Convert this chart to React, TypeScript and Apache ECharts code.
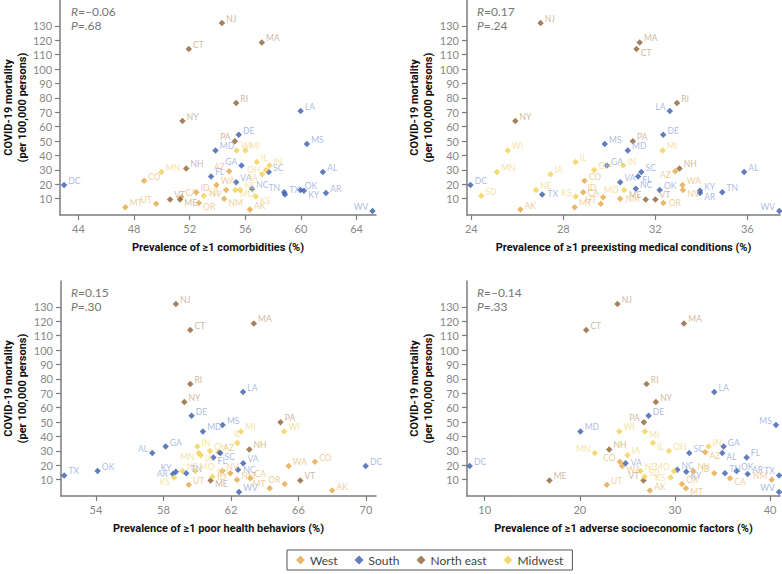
import React, { useEffect, useRef } from 'react';
import * as echarts from 'echarts';

const states = ['AK','AL','AR','AZ','CA','CO','CT','DC','DE','FL','GA','IA','ID','IL','IN','KS','KY','LA','MA','MD','ME','MI','MN','MO','MS','MT','NC','NE','NH','NJ','NM','NV','NY','OH','OK','OR','PA','RI','SC','SD','TN','TX','UT','VA','VT','WA','WI','WV'];
const regionOf = ['West','South','South','West','West','West','North east','South','South','South','South','Midwest','West','Midwest','Midwest','Midwest','South','South','North east','South','North east','Midwest','Midwest','Midwest','South','West','South','Midwest','North east','North east','West','West','North east','Midwest','South','West','North east','North east','South','Midwest','South','South','West','South','North east','West','Midwest','South'];
const mortality = [2.5,28.5,14,29,11,22.5,114,19.5,54.5,25.5,33,27,14.5,35.5,33,11.5,15.5,71,118.5,43.5,9.5,43.5,28.5,16,48,4,17,16,31,132,10,16,64,30,16,7,50,76.5,28.5,12,14.5,13,6.5,21.5,9.5,19.5,43.5,1.5];
const xComorbid = [56.33,61.58,61.8,54.84,51.39,48.72,51.94,42.97,55.53,53.54,55.73,57.21,52.49,56.83,57.74,56.76,60.22,59.98,57.19,53.86,51.31,56.01,49.97,55.29,60.43,47.38,56.49,55.63,51.75,54.32,54.48,54.62,51.48,57.48,59.97,52.66,55.25,55.34,57.69,53.02,58.8,58.85,49.59,55.34,50.59,53.93,55.37,65.15];
const xPreexist = [26.13,35.86,33.94,32.86,29.73,28.92,31.18,23.96,32.34,31.25,29.89,27.44,28.86,28.53,30.6,28.54,33.94,32.63,31.32,30.8,31.58,32.32,25.11,30.64,29.8,28.49,31.15,26.81,33.05,27.01,30.47,33.2,25.91,29.34,32.19,32.35,31.02,32.94,31.39,24.43,34.91,27.08,29.63,30.47,32.0,33.18,25.58,37.39];
const xHealth = [68.0,57.34,58.57,61.29,63.15,66.98,59.59,69.99,59.67,60.96,58.13,60.21,61.97,62.38,60.01,58.64,58.74,62.72,63.36,60.34,60.8,62.6,60.1,59.89,61.51,64.3,62.42,59.13,63.09,58.74,62.36,61.49,59.24,60.76,54.1,65.19,64.94,59.59,61.37,60.9,59.35,52.12,59.5,62.73,66.11,65.42,65.16,62.48];
const xSocio = [27.37,34.98,37.65,33.19,35.79,24.21,20.67,8.42,27.23,37.54,35.12,25.02,34.14,27.68,33.54,29.54,31.19,34.14,30.95,20.07,16.81,26.84,21.58,29.9,40.63,31.16,30.25,26.39,23.09,23.96,40.18,31.93,28.0,29.37,36.49,30.74,26.74,27.02,31.51,26.81,35.26,40.95,22.84,24.81,26.7,24.46,24.14,40.95];

const regions = ['West','South','North east','Midwest'];
const yTicks = [10,20,30,40,50,60,70,80,90,100,110,120,130];
const xTicks1 = [44,48,52,56,60,64];
const xTicks2 = [24,28,32,36];
const xTicks3 = [54,58,62,66,70];
const xTicks4 = [10,20,30,40];
const rValues = ['–0.06','0.17','0.15','–0.14'];
const pValues = ['.68','.24','.30','.33'];
const xTitles = [
  'Prevalence of ≥1 comorbidities (%)',
  'Prevalence of ≥1 preexisting medical conditions (%)',
  'Prevalence of ≥1 poor health behaviors (%)',
  'Prevalence of ≥1 adverse socioeconomic factors (%)',
];
const yTitle = 'COVID-19 mortality\n(per 100,000 persons)';

const markerColors: Record<string, string> = {
  'West': '#E3A646', 'South': '#3A5DAE', 'North east': '#8D6236', 'Midwest': '#F3D052',
};
const labelColors: Record<string, string> = {
  'West': '#EBBF80', 'South': '#95A9D8', 'North east': '#C2A585', 'Midwest': '#F2D98A',
};

const labPos: Record<string, string>[] = [
  { UT: 'tl', ME: 'br', OR: 'br', NV: 'bl', NM: 'br', AZ: 'tl', PA: 'tl', MO: 'br', GA: 'tl', KS: 'br', IA: 'bl', OH: 'l', TN: 'tl', KY: 'br', WV: 'tl' },
  { KS: 'tl', UT: 'tl', CA: 'tl', MO: 'l', ME: 'tl', FL: 'br', LA: 'tl', AZ: 'bl', NV: 'br', AR: 'br', WV: 'tl', CT: 'br', NM: 'r', OR: 'r', TX: 'r' },
  { AL: 'tl', KY: 'tl', AR: 'l', KS: 'bl', MN: 'bl', IA: 'br', ME: 'br', FL: 'br', SC: 'br', ID: 'bl', NC: 'r', OR: 'tl', MT: 'tl', IL: 't' },
  { MN: 'tl', CO: 'tl', WA: 'br', VT: 'tl', PA: 'tl', MI: 'br', IL: 'br', KS: 'l', MO: 'tl', KY: 'br', MT: 'br', AZ: 'br', ID: 'tl', AL: 'br', CA: 'br', NM: 'tl', MS: 'tl', WV: 'tl', VA: 'r', TX: 'tl' },
];

function labelFor(pos: string) {
  switch (pos) {
    case 'tl': return { position: 'left', distance: 1, offset: [0, -4] };
    case 'br': return { position: 'right', distance: 1, offset: [0, 4] };
    case 'bl': return { position: 'left', distance: 1, offset: [0, 4] };
    case 'r': return { position: 'right', distance: 2 };
    case 'l': return { position: 'left', distance: 2 };
    case 't': return { position: 'top', distance: 1 };
    default: return { position: 'right', distance: 1, offset: [0, -4] };
  }
}

const panels = [
  { xs: xComorbid, ticks: xTicks1, min: 42.68, max: 65.4, grid: { left: 60, top: 0, width: 316, height: 215 } },
  { xs: xPreexist, ticks: xTicks2, min: 23.81, max: 37.42, grid: { left: 467, top: 0, width: 313, height: 215 } },
  { xs: xHealth, ticks: xTicks3, min: 51.93, max: 70.6, grid: { left: 61, top: 281, width: 315, height: 215 } },
  { xs: xSocio, ticks: xTicks4, min: 8.14, max: 41.05, grid: { left: 467, top: 281, width: 313, height: 215 } },
];

export default function App() {
  const ref = useRef<HTMLDivElement>(null);
  useEffect(() => {
    if (!ref.current) return;
    const chart = echarts.init(ref.current, undefined, { renderer: 'svg' });
    const axisColor = '#7c7c7c';
    const grids = panels.map((p) => ({ ...p.grid, containLabel: false }));
    const xAxes = panels.map((p, i) => ({
      type: 'value', gridIndex: i, min: p.min, max: p.max,
      name: xTitles[i], nameLocation: 'middle', nameGap: 27,
      nameTextStyle: { fontFamily: 'Roboto', fontWeight: 'bold', fontSize: 11, color: '#111' },
      axisLine: { show: true, onZero: false, lineStyle: { color: axisColor, width: 1.5 } },
      axisTick: { show: true, length: 5, customValues: p.ticks, lineStyle: { color: axisColor, width: 1.2 } },
      axisLabel: { customValues: p.ticks, color: '#888', fontSize: 11, fontFamily: 'Lato', margin: 8 },
      splitLine: { show: false },
    }));
    const yAxes = panels.map((p, i) => ({
      type: 'value', gridIndex: i, min: -1.3, max: 148,
      name: yTitle, nameLocation: 'middle', nameGap: 31, nameRotate: 90,
      nameTextStyle: { fontFamily: 'Roboto', fontWeight: 'bold', fontSize: 11, color: '#111', lineHeight: 14 },
      axisLine: { show: true, onZero: false, lineStyle: { color: axisColor, width: 1.5 } },
      axisTick: { show: true, length: 5, customValues: yTicks, lineStyle: { color: axisColor, width: 1.2 } },
      axisLabel: { customValues: yTicks, color: '#888', fontSize: 11, fontFamily: 'Lato', margin: 8 },
      splitLine: { show: false },
    }));
    const series: any[] = [];
    panels.forEach((p, pi) => {
      regions.forEach((r) => {
        const data = states
          .map((s, i) => ({ s, i }))
          .filter(({ i }) => regionOf[i] === r)
          .map(({ s, i }) => ({
            name: s,
            value: [p.xs[i], mortality[i]],
            label: labelFor(labPos[pi][s] || 'tr'),
          }));
        series.push({
          type: 'scatter', name: r, xAxisIndex: pi, yAxisIndex: pi,
          symbol: 'diamond', symbolSize: 6.5, silent: true,
          itemStyle: { color: markerColors[r] },
          label: { show: true, formatter: '{b}', fontSize: 8.5, fontFamily: 'Lato', color: labelColors[r] },
          emphasis: { disabled: true },
          data,
        });
      });
    });
    const statPos = [[71, 5], [477, 5], [71, 286], [477, 286]];
    const graphic = statPos.map((pos, i) => ({
      type: 'text', left: pos[0], top: pos[1], silent: true,
      style: {
        text: `{i|R}{n|=${rValues[i]}}\n{i|P}{n|=${pValues[i]}}`,
        rich: {
          i: { fontStyle: 'italic', fontFamily: 'Lato', fontSize: 12, fill: '#777', lineHeight: 14.5 },
          n: { fontFamily: 'Lato', fontSize: 12, fill: '#777', lineHeight: 14.5 },
        },
      },
    }));
    chart.setOption({
      animation: false,
      textStyle: { fontFamily: 'Lato' },
      grid: grids,
      xAxis: xAxes,
      yAxis: yAxes,
      series,
      graphic,
      legend: {
        data: regions, left: 287, top: 550, icon: 'diamond', itemWidth: 9, itemHeight: 9, itemGap: 17,
        padding: [4, 9, 4, 9], borderColor: '#555', borderWidth: 1,
        textStyle: { fontSize: 12, color: '#444', fontFamily: 'Lato' },
      },
    });
    return () => chart.dispose();
  }, []);
  return <div ref={ref} style={{ position: 'fixed', left: 0, top: 0, width: 782, height: 574, background: '#fff' }} />;
}
